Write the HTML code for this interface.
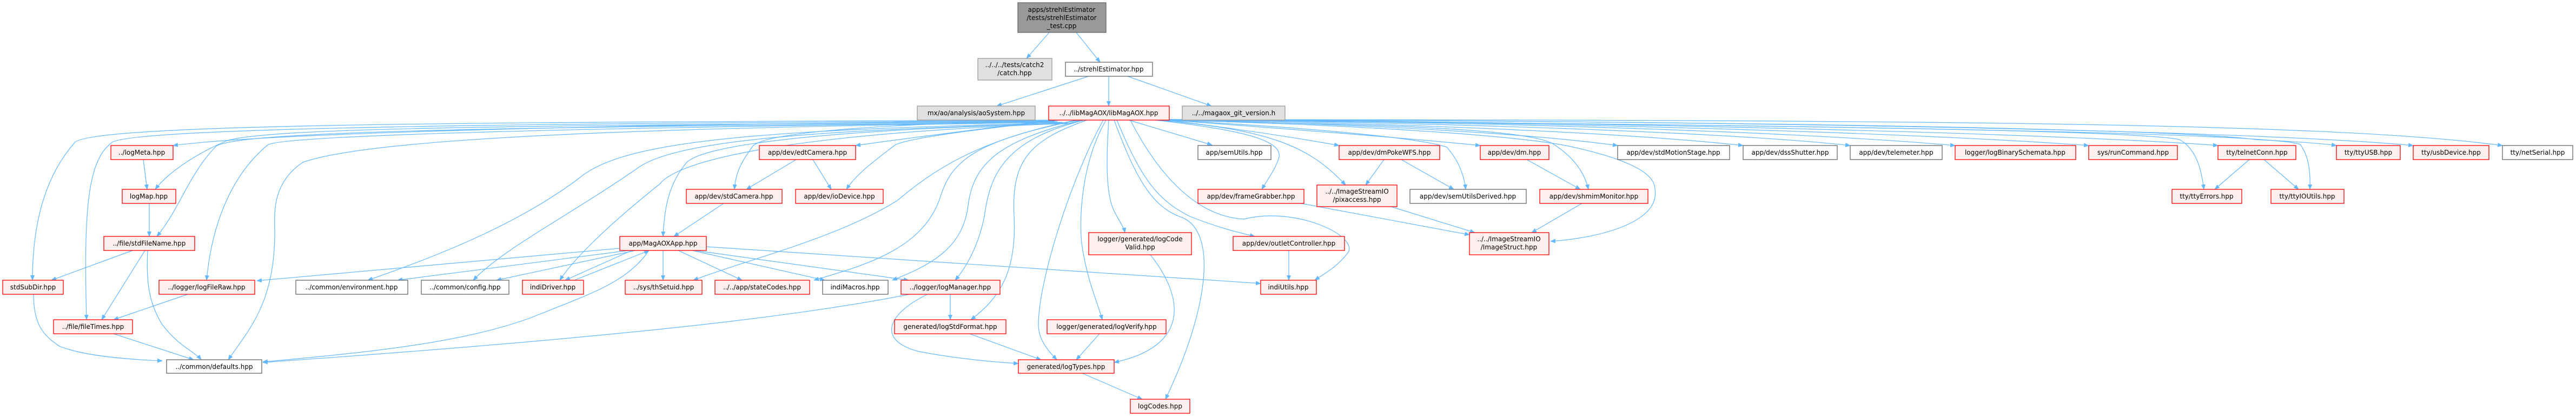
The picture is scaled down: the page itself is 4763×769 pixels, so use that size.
<!DOCTYPE html>
<html><head><meta charset="utf-8"><style>
html,body{margin:0;padding:0;background:#fff;}
svg{display:block;}
text{font-family:"DejaVu Sans","Liberation Sans",sans-serif;font-size:12px;fill:#000;}
.r{fill:#fff0f0;stroke:#ff0000;stroke-width:1.3;}
.w{fill:#fff;stroke:#666;stroke-width:1.3;}
.g{fill:#e0e0e0;stroke:#999;stroke-width:1.3;}
.t{fill:#999;stroke:#666;stroke-width:1.3;}
path{fill:none;stroke:#63b8ff;stroke-width:1.2;}
</style></head><body>
<svg width="4763" height="769" viewBox="0 0 4763 769" xmlns="http://www.w3.org/2000/svg">
<defs><marker id="a" markerWidth="10" markerHeight="10" refX="9" refY="4" orient="auto" markerUnits="userSpaceOnUse"><polygon points="0,0 10,4 0,8" fill="#63b8ff"/></marker></defs>
<g marker-end="url(#a)">
<path d="M1940,60 L1898,108"/>
<path d="M1990,60 L2034,115"/>
<path d="M2013,141 L1843,196"/>
<path d="M2050,141 L2050,196"/>
<path d="M2085,141 L2240,196"/>
<!-- libMagAOX fanout left -->
<path d="M1950,222 C900,226 150,228 137,265 C80,330 60,420 60,518"/>
<path d="M1950,223 C1000,228 220,235 205,265 C160,300 155,400 160,591"/>
<path d="M1950,224 C1200,228 500,245 320,269"/>
<path d="M1955,225 C1000,232 500,235 420,260 C360,285 310,320 287,350"/>
<path d="M1955,226 C1000,235 450,240 400,270 C350,320 330,390 290,437"/>
<path d="M1960,226 C1100,235 520,250 495,268 C420,330 390,430 382,518"/>
<path d="M1965,226 C1300,235 700,250 560,300 C500,340 508,400 508,430 C508,560 460,610 422,665"/>
<path d="M1970,227 C1400,240 1150,260 1070,330 C950,420 790,480 680,518"/>
<path d="M1975,228 C1500,240 1250,260 1180,310 C1050,400 930,460 875,518"/>
<path d="M1980,228 C1500,245 1260,290 1220,340 C1120,420 1060,480 1035,518"/>
<path d="M1985,228 C1500,240 1300,270 1270,300 C1235,340 1228,390 1226,437"/>
<path d="M1990,222 C1800,260 1720,320 1660,370 C1550,440 1380,480 1282,518"/>
<path d="M1995,222 C1800,260 1760,300 1740,360 C1710,460 1600,490 1505,518"/>
<path d="M2000,222 C1850,260 1800,300 1790,380 C1780,460 1720,490 1650,518"/>
<path d="M2005,222 C1850,260 1830,330 1820,400 C1810,450 1790,490 1766,518"/>
<path d="M1945,222 C1800,240 1680,255 1582,269"/>
<path d="M1950,222 C1700,228 1420,240 1392,270 C1370,300 1360,320 1358,350"/>
<path d="M1960,222 C1800,240 1680,255 1655,268 C1620,295 1585,320 1565,350"/>
<path d="M2010,222 C1900,260 1870,300 1875,400 C1880,500 1850,550 1795,591"/>
<path d="M2040,222 C1980,330 1920,520 1920,600 C1920,630 1940,650 1954,665"/>
<path d="M2045,222 C2000,300 1995,400 2000,450 C2010,520 2030,560 2038,591"/>
<path d="M2050,222 C2045,300 2045,360 2060,390 C2070,410 2078,420 2080,430"/>
<path d="M2060,222 C2100,330 2130,380 2180,400 C2250,420 2240,560 2155,738"/>
<path d="M2065,222 C2110,330 2140,370 2200,400 C2250,420 2290,430 2320,437"/>
<path d="M2087,222 L2241,268"/>
<path d="M2135,222 C2300,240 2370,260 2365,290 C2360,310 2345,330 2333,350"/>
<path d="M2090,222 C2130,300 2200,400 2300,405 C2400,380 2520,440 2490,470 C2470,495 2450,505 2431,518"/>
<path d="M2150,222 C2500,230 2800,250 2900,270 C3040,300 3060,330 3060,350 C3070,410 2960,440 2867,446"/>
<path d="M2140,222 C2350,240 2420,270 2488,342"/>
<path d="M2155,222 C2500,240 2640,260 2675,272 C2700,300 2708,330 2710,350"/>
<path d="M2155,223 C2600,230 2820,240 2870,265 C2910,290 2930,320 2937,350"/>
<path d="M2160,222 C2300,240 2400,255 2476,269"/>
<path d="M2162,222 C2400,240 2600,255 2737,269"/>
<path d="M2162,221 C2600,232 2850,250 2991,269"/>
<path d="M2162,221 C2700,230 3050,250 3223,269"/>
<path d="M2162,221 C2800,228 3250,250 3421,269"/>
<path d="M2162,221 C2900,226 3400,250 3615,269"/>
<path d="M2162,221 C3000,226 3600,250 3862,269"/>
<path d="M2162,221 C3100,226 3850,250 4101,269"/>
<path d="M2162,221 C3300,224 4050,240 4170,258 C4250,262 4300,266 4320,269"/>
<path d="M2162,221 C3400,224 4200,245 4462,269"/>
<path d="M2162,221 C3500,222 4300,225 4627,269"/>
<path d="M2162,222 C3200,230 3950,240 4030,258 C4060,275 4070,310 4075,350"/>
<path d="M2162,222 C3300,230 4200,245 4253,267 C4270,290 4272,320 4271,350"/>
<!-- other edges -->
<path d="M265,295 L272,350"/>
<path d="M276,376 L276,437"/>
<path d="M245,463 L95,518"/>
<path d="M268,463 L188,591"/>
<path d="M273,463 C270,520 275,560 300,600 C330,640 360,650 372,665"/>
<path d="M62,544 C62,600 80,620 110,640 C160,660 250,665 300,667"/>
<path d="M347,544 L210,591"/>
<path d="M210,617 L358,665"/>
<path d="M1146,459 L475,519"/>
<path d="M1170,462 L735,518"/>
<path d="M1175,463 L918,518"/>
<path d="M1168,463 L1045,518"/>
<path d="M1062,518 L1200,463"/>
<path d="M1226,463 L1226,518"/>
<path d="M1254,463 L1372,518"/>
<path d="M1280,463 L1525,518"/>
<path d="M1285,463 L1680,518"/>
<path d="M1306,456 L2331,524"/>
<path d="M1200,463 C1160,520 1100,540 1000,580 C880,630 700,650 486,669"/>
<path d="M1682,544 C1500,580 1200,620 486,670"/>
<path d="M1757,544 L1757,591"/>
<path d="M1715,544 C1640,580 1620,630 1700,650 C1780,665 1850,670 1883,672"/>
<path d="M1793,617 L1925,665"/>
<path d="M2033,617 L1990,665"/>
<path d="M2127,471 C2190,550 2200,640 2060,670"/>
<path d="M2001,690 L2112,738"/>
<path d="M1472,295 L1380,350"/>
<path d="M1503,295 L1537,350"/>
<path d="M1338,376 L1246,437"/>
<path d="M2383,463 L2383,518"/>
<path d="M2400,375 L2717,434"/>
<path d="M2559,295 L2525,342"/>
<path d="M2591,295 L2688,350"/>
<path d="M2823,295 L2922,350"/>
<path d="M2925,376 L2832,430"/>
<path d="M2572,382 L2727,430"/>
<path d="M4159,295 L4095,350"/>
<path d="M4186,295 L4250,350"/>
</g>
<!-- nodes -->
<rect class="t" x="1882" y="5" width="163" height="55"/>
<text x="1963" y="22" text-anchor="middle">apps/strehlEstimator</text>
<text x="1963" y="37" text-anchor="middle">/tests/strehlEstimator</text>
<text x="1963" y="52" text-anchor="middle">_test.cpp</text>
<rect class="g" x="1808" y="108" width="137" height="40"/>
<text x="1876" y="124" text-anchor="middle">../../../tests/catch2</text>
<text x="1876" y="139" text-anchor="middle">/catch.hpp</text>
<rect class="w" x="1970" y="115" width="161" height="26"/>
<text x="2050" y="132" text-anchor="middle">../strehlEstimator.hpp</text>
<rect class="g" x="1696" y="196" width="218" height="26"/>
<text x="1805" y="213" text-anchor="middle">mx/ao/analysis/aoSystem.hpp</text>
<rect class="r" x="1939" y="196" width="223" height="26"/>
<text x="2050" y="213" text-anchor="middle">../../libMagAOX/libMagAOX.hpp</text>
<rect class="g" x="2186" y="196" width="190" height="26"/>
<text x="2281" y="213" text-anchor="middle">../../magaox_git_version.h</text>

<rect class="r" x="205" y="269" width="115" height="26"/><text x="262" y="286" text-anchor="middle">../logMeta.hpp</text>
<rect class="r" x="1404" y="269" width="178" height="26"/><text x="1493" y="286" text-anchor="middle">app/dev/edtCamera.hpp</text>
<rect class="w" x="2215" y="269" width="135" height="26"/><text x="2282" y="286" text-anchor="middle">app/semUtils.hpp</text>
<rect class="r" x="2476" y="269" width="186" height="26"/><text x="2569" y="286" text-anchor="middle">app/dev/dmPokeWFS.hpp</text>
<rect class="r" x="2737" y="269" width="127" height="26"/><text x="2800" y="286" text-anchor="middle">app/dev/dm.hpp</text>
<rect class="w" x="2991" y="269" width="207" height="26"/><text x="3094" y="286" text-anchor="middle">app/dev/stdMotionStage.hpp</text>
<rect class="w" x="3223" y="269" width="174" height="26"/><text x="3310" y="286" text-anchor="middle">app/dev/dssShutter.hpp</text>
<rect class="w" x="3421" y="269" width="170" height="26"/><text x="3506" y="286" text-anchor="middle">app/dev/telemeter.hpp</text>
<rect class="r" x="3615" y="269" width="223" height="26"/><text x="3726" y="286" text-anchor="middle">logger/logBinarySchemata.hpp</text>
<rect class="r" x="3862" y="269" width="164" height="26"/><text x="3944" y="286" text-anchor="middle">sys/runCommand.hpp</text>
<rect class="r" x="4101" y="269" width="144" height="26"/><text x="4173" y="286" text-anchor="middle">tty/telnetConn.hpp</text>
<rect class="r" x="4320" y="269" width="118" height="26"/><text x="4379" y="286" text-anchor="middle">tty/ttyUSB.hpp</text>
<rect class="r" x="4462" y="269" width="140" height="26"/><text x="4532" y="286" text-anchor="middle">tty/usbDevice.hpp</text>
<rect class="w" x="4627" y="269" width="130" height="26"/><text x="4692" y="286" text-anchor="middle">tty/netSerial.hpp</text>

<rect class="r" x="226" y="350" width="99" height="26"/><text x="275" y="367" text-anchor="middle">logMap.hpp</text>
<rect class="r" x="1269" y="350" width="177" height="26"/><text x="1357" y="367" text-anchor="middle">app/dev/stdCamera.hpp</text>
<rect class="r" x="1471" y="350" width="162" height="26"/><text x="1552" y="367" text-anchor="middle">app/dev/ioDevice.hpp</text>
<rect class="r" x="2215" y="350" width="196" height="26"/><text x="2313" y="367" text-anchor="middle">app/dev/frameGrabber.hpp</text>
<rect class="r" x="2435" y="342" width="148" height="40"/><text x="2509" y="358" text-anchor="middle">../../ImageStreamIO</text><text x="2509" y="373" text-anchor="middle">/pixaccess.hpp</text>
<rect class="w" x="2607" y="350" width="215" height="26"/><text x="2714" y="367" text-anchor="middle">app/dev/semUtilsDerived.hpp</text>
<rect class="r" x="2847" y="350" width="200" height="26"/><text x="2947" y="367" text-anchor="middle">app/dev/shmimMonitor.hpp</text>
<rect class="r" x="4016" y="350" width="129" height="26"/><text x="4080" y="367" text-anchor="middle">tty/ttyErrors.hpp</text>
<rect class="r" x="4199" y="350" width="135" height="26"/><text x="4266" y="367" text-anchor="middle">tty/ttyIOUtils.hpp</text>

<rect class="r" x="192" y="437" width="168" height="26"/><text x="276" y="454" text-anchor="middle">../file/stdFileName.hpp</text>
<rect class="r" x="1146" y="437" width="160" height="26"/><text x="1226" y="454" text-anchor="middle">app/MagAOXApp.hpp</text>
<rect class="r" x="2013" y="430" width="190" height="41"/><text x="2108" y="446" text-anchor="middle">logger/generated/logCode</text><text x="2108" y="461" text-anchor="middle">Valid.hpp</text>
<rect class="r" x="2280" y="437" width="206" height="26"/><text x="2383" y="454" text-anchor="middle">app/dev/outletController.hpp</text>
<rect class="r" x="2717" y="430" width="147" height="41"/><text x="2790" y="446" text-anchor="middle">../../ImageStreamIO</text><text x="2790" y="461" text-anchor="middle">/ImageStruct.hpp</text>

<rect class="r" x="5" y="518" width="112" height="26"/><text x="61" y="535" text-anchor="middle">stdSubDir.hpp</text>
<rect class="r" x="294" y="518" width="177" height="26"/><text x="382" y="535" text-anchor="middle">../logger/logFileRaw.hpp</text>
<rect class="w" x="547" y="518" width="207" height="26"/><text x="650" y="535" text-anchor="middle">../common/environment.hpp</text>
<rect class="w" x="779" y="518" width="162" height="26"/><text x="860" y="535" text-anchor="middle">../common/config.hpp</text>
<rect class="r" x="966" y="518" width="113" height="26"/><text x="1022" y="535" text-anchor="middle">indiDriver.hpp</text>
<rect class="r" x="1156" y="518" width="142" height="26"/><text x="1227" y="535" text-anchor="middle">../sys/thSetuid.hpp</text>
<rect class="r" x="1322" y="518" width="175" height="26"/><text x="1409" y="535" text-anchor="middle">../../app/stateCodes.hpp</text>
<rect class="w" x="1521" y="518" width="121" height="26"/><text x="1581" y="535" text-anchor="middle">indiMacros.hpp</text>
<rect class="r" x="1666" y="518" width="183" height="26"/><text x="1757" y="535" text-anchor="middle">../logger/logManager.hpp</text>
<rect class="r" x="2331" y="518" width="103" height="26"/><text x="2382" y="535" text-anchor="middle">indiUtils.hpp</text>

<rect class="r" x="99" y="591" width="146" height="26"/><text x="172" y="608" text-anchor="middle">../file/fileTimes.hpp</text>
<rect class="r" x="1654" y="591" width="206" height="26"/><text x="1757" y="608" text-anchor="middle">generated/logStdFormat.hpp</text>
<rect class="r" x="1936" y="591" width="220" height="26"/><text x="2046" y="608" text-anchor="middle">logger/generated/logVerify.hpp</text>

<rect class="w" x="308" y="665" width="176" height="25"/><text x="396" y="682" text-anchor="middle">../common/defaults.hpp</text>
<rect class="r" x="1883" y="665" width="177" height="25"/><text x="1971" y="682" text-anchor="middle">generated/logTypes.hpp</text>

<rect class="r" x="2090" y="738" width="110" height="26"/><text x="2145" y="755" text-anchor="middle">logCodes.hpp</text>
</svg>
</body></html>
